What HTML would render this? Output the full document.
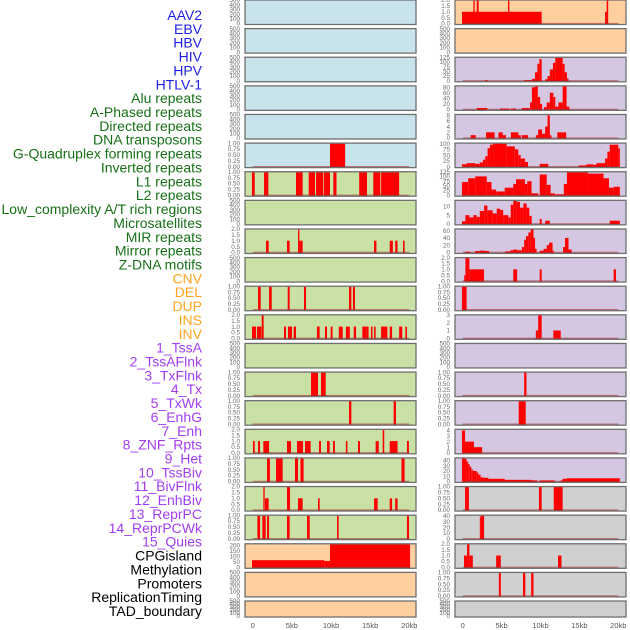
<!DOCTYPE html>
<html><head><meta charset="utf-8">
<style>
html,body{margin:0;padding:0;background:#fff;}
svg{display:block;font-family:"Liberation Sans",sans-serif;}
</style></head>
<body>
<svg id="chart" width="630" height="630" viewBox="0 0 630 630" xmlns="http://www.w3.org/2000/svg">
<g id="labels"></g>
<g id="panels"></g>
<g id="xaxes"></g>
</svg>
<script>
// ---- data ----
const trackLabels = ["AAV2","EBV","HBV","HIV","HPV","HTLV-1","Alu repeats","A-Phased repeats","Directed repeats","DNA transposons","G-Quadruplex forming repeats","Inverted repeats","L1 repeats","L2 repeats","Low_complexity A/T rich regions","Microsatellites","MIR repeats","Mirror repeats","Z-DNA motifs","CNV","DEL","DUP","INS","INV","1_TssA","2_TssAFlnk","3_TxFlnk","4_Tx","5_TxWk","6_EnhG","7_Enh","8_ZNF_Rpts","9_Het","10_TssBiv","11_BivFlnk","12_EnhBiv","13_ReprPC","14_ReprPCWk","15_Quies","CPGisland","Methylation","Promoters","ReplicationTiming","TAD_boundary"];
const labelGroups = [0,0,0,0,0,0,1,1,1,1,1,1,1,1,1,1,1,1,1,2,2,2,2,2,3,3,3,3,3,3,3,3,3,3,3,3,3,3,3,4,4,4,4,4];
const xTickLabels = ["0","5kb","10kb","15kb","20kb"];
const xTickValues = [0,5,10,15,20];

const E = [0,100,200,300,400,500];
const P1 = [0,0.25,0.5,0.75,1.0];
const P2 = [0,0.5,1.0,1.5,2.0];

// left column: colour class, tick values, y max, segments [startKb,endKb,value]
const leftBg = ["b","b","b","b","b","b","g","g","g","g","g","g","g","g","g","g","g","g","g","o","o","o"];
const leftTicks = [E,E,E,E,E,P1,P1,E,P2,E,P1,P2,E,P1,P1,P2,P1,P2,P1,[0,50,100,150,200],E,E];
const leftMax = [500,500,500,500,500,1,1,500,2,500,1,2,500,1,1,2,1,2,1,215,500,500];
const leftSegs = [
 [],[],[],[],[],
 [[9.87,11.8,1]],
 [[-0.1,0.26,1],[1.45,2.0,1],[5.53,6.38,1],[7.15,7.96,1],[8.09,9.02,1],[9.11,9.87,1],[10.3,10.7,1],[13.6,14.6,1],[15.4,16.3,1],[16.4,18.7,1]],
 [],
 [[1.7,2.04,1],[4.38,4.72,1],[5.79,5.96,2],[5.96,6.38,1],[15.5,15.8,1],[17.5,17.9,1],[18.2,18.5,1],[19.2,19.4,1]],
 [],
 [[0.68,1.02,1],[2.09,2.43,1],[4.47,4.72,1],[6.55,6.81,1],[12.3,12.6,1],[12.8,13.06,1]],
 [[-0.09,0.43,1],[0.55,1.11,1],[1.15,1.4,2],[4.0,4.26,1],[4.51,5.02,1],[5.23,5.53,1],[8.2,8.55,1],[9.23,9.49,1],[9.96,10.2,1],[11.0,11.5,1],[11.9,12.4,1],[12.9,13.2,1],[14.0,14.5,1],[14.5,14.8,1],[15.1,15.3,1],[15.5,15.7,1],[16.4,16.9,1],[16.9,17.2,1],[17.5,17.8,1],[18.7,19.1,1],[19.5,19.7,1]],
 [],
 [[7.45,8.34,1],[8.72,9.32,1]],
 [[12.3,12.6,1],[18.0,18.3,1]],
 [[0.04,0.26,1],[0.68,0.94,1],[1.36,2.09,1],[4.38,4.89,1],[5.66,6.43,1],[6.68,7.4,1],[8.47,8.72,1],[9.49,9.83,1],[10.26,10.5,1],[11.9,12.1,1],[13.45,13.7,1],[15.7,16.1,1],[16.6,16.8,2],[17.5,18.5,1],[19.7,19.95,1]],
 [[1.83,2.2,1],[2.98,3.83,1],[5.4,5.79,1],[6.1,6.5,1],[19.0,19.4,1]],
 [[1.36,1.53,2],[1.57,2.04,1],[4.38,4.77,2],[5.79,6.38,1],[8.34,8.55,1],[15.5,15.96,1],[17.5,17.8,1],[18.2,18.5,1]],
 [[0.6,0.94,1],[1.23,1.66,1],[1.83,2.09,1],[4.38,4.72,1],[6.94,7.28,1],[10.77,10.98,1],[19.7,19.96,1]],
 [[-0.09,9.15,65],[9.15,9.87,58],[9.87,20.1,215]],
 [],[]
];

// right column
const rightBg = ["o","o","p","p","p","p","p","p","p","p","p","p","p","p","p","p","p","y","y","y","y","y"];
const rightTicks = [P2,E,[0,25,50,75,100,125],[0,20,40,60,80],[0,2,4,6,8],[0,25,50,75,100],[0,25,50,75,100,125],[0,5,10],[0,20,40,60],P2,P1,[0,1,2,3],E,P1,P1,[0,1,2,3,4],[0,10,20,30,40],P1,[0,10,20,30,40],P2,P1,E];
const rightMax = [2,500,125,85,8.3,102,125,13.5,64.5,2,1,3,500,1,1,4.2,45,1,41.5,2,1,500];
const rightSegs = [
 [[-0.09,10.15,1],[1.37,1.54,2],[1.8,2.05,2],[5.82,6.0,2],[18.3,18.5,1],[18.5,18.7,2]],
 [],
 [[2.87,3.2,3],[7.9,8.9,3],[8.9,9.3,10],[9.3,9.6,45],[9.6,9.85,90],[9.85,10.15,115],[10.6,10.9,8],[10.9,11.2,25],[11.2,11.6,60],[11.6,11.9,95],[11.9,12.85,122],[12.85,13.1,90],[13.1,13.4,45],[13.4,13.6,12]],
 [[1.8,3.17,5],[4.8,6.0,3],[6.2,6.85,3],[7.6,8.6,5],[8.65,8.9,25],[8.9,9.3,80],[9.3,9.65,85],[9.65,9.95,45],[9.95,10.2,20],[10.45,10.8,8],[10.8,11.2,25],[11.2,11.65,60],[11.65,11.9,45],[11.9,12.3,10],[12.3,12.85,25],[12.85,13.35,85],[13.35,13.7,10]],
 [[1.03,1.67,1],[3.0,4.1,2],[4.6,5.14,2],[5.14,5.55,1],[6.2,7.15,2],[7.15,7.45,1],[7.6,8.4,1],[9.4,9.7,1],[9.7,10.2,3],[10.2,10.6,1.5],[10.6,10.9,4],[10.9,11.2,8],[11.2,11.4,1],[12.16,13.3,2]],
 [[-0.1,0.5,10],[0.5,1.6,15],[1.6,2.2,12],[2.2,2.6,18],[2.6,2.9,30],[2.9,3.2,45],[3.2,3.5,80],[3.5,3.9,95],[3.9,5.65,100],[5.65,6.7,88],[6.7,7.15,75],[7.15,7.45,50],[7.45,8.0,35],[8.0,8.4,20],[9.9,11.0,12],[14.9,15.9,5],[15.9,16.8,10],[16.8,17.2,8],[17.2,18.3,15],[18.3,18.6,35],[18.6,18.9,65],[18.9,20.0,95],[20.0,20.2,80]],
 [[-0.1,0.7,70],[0.7,1.6,90],[1.6,3.1,100],[3.1,3.7,70],[3.7,4.3,30],[4.3,5.4,20],[5.4,6.5,40],[6.5,6.85,60],[6.85,8.0,85],[8.0,8.3,60],[8.3,8.85,75],[8.85,9.7,10],[9.9,10.8,110],[10.8,11.3,55],[11.3,11.85,10],[11.85,13.0,5],[13.0,13.4,60],[13.4,16.1,125],[16.1,18.1,115],[18.1,18.8,90],[18.8,19.4,40],[19.4,20.2,45]],
 [[-0.1,0.35,1.5],[0.35,0.86,5],[0.86,1.37,3.7],[1.37,1.8,5],[1.8,2.2,4],[2.2,2.75,7.4],[2.75,3.17,10.5],[3.17,3.85,7.8],[3.85,4.37,6],[4.37,4.8,8.7],[4.8,5.2,8],[5.2,5.86,5],[5.86,6.17,3.7],[6.17,6.5,11],[6.5,6.94,13.5],[6.94,7.37,12.6],[7.37,7.8,9.3],[7.8,8.22,11.7],[8.22,8.56,9.3],[8.56,8.87,4.6],[9.9,10.15,2.8],[10.6,11.2,1.8],[18.9,20.2,1.8]],
 [[0.3,0.95,2],[1.6,2.2,4],[2.2,2.87,5],[2.87,3.4,4],[5.44,6.1,3],[6.1,6.5,6],[6.5,7.0,8],[7.0,7.6,6],[7.6,7.9,15],[7.9,8.14,35],[8.14,8.44,45],[8.44,8.74,55],[8.74,9.1,65],[9.1,9.3,40],[9.3,9.5,10],[9.9,10.4,5],[10.4,10.8,10],[10.8,11.1,20],[11.1,11.55,27],[11.55,11.7,5],[12.9,13.15,15],[13.15,13.6,40],[13.6,14.0,8]],
 [[0.2,0.35,0.5],[0.35,0.86,2],[0.86,2.74,1],[6.5,7.0,1],[9.9,10.15,1],[19.4,19.7,1]],
 [[-0.1,0.5,1]],
 [[9.4,9.7,1],[9.7,10.15,3],[11.65,12.6,1]],
 [],
 [[7.9,8.2,1]],
 [[7.2,8.1,1]],
 [[-0.1,0.3,4],[0.3,1.45,2],[1.45,2.5,1]],
 [[-0.1,0.3,45],[0.3,0.5,43],[0.5,0.7,38],[0.7,0.9,33],[0.9,1.1,28],[1.1,1.3,23],[1.3,1.8,20],[1.8,2.0,17],[2.0,2.3,13],[2.3,2.65,8],[2.65,3.3,7],[3.3,5.4,5],[5.4,8.85,3],[8.85,9.6,2],[9.9,11.8,2],[12.6,12.85,2],[12.85,13.3,5],[13.3,20.2,6]],
 [[0.3,0.8,1],[9.8,10.15,1],[11.7,12.85,1]],
 [[2.2,2.3,38],[2.3,2.75,42]],
 [[0.17,0.56,1],[0.56,0.86,2],[0.86,1.3,1],[4.3,4.9,1],[12.25,12.7,1]],
 [[4.65,4.9,1],[7.75,8.05,1],[8.8,9.1,1]],
 []
];

// ---- layout ----
const NS = "http://www.w3.org/2000/svg";
const bgColors = {b:"#c9e3ec", g:"#c9e1a5", o:"#ffd09f", p:"#d5c6e2", y:"#d0d0d0"};
const labelColors = ["#1f1fe6","#177017","#ffa41f","#a23ef0","#000000"];
const cols = [
  {x0:245, x1:416, zero:252.7, pxPerKb:7.83, tickX:240, bg:leftBg, ticks:leftTicks, max:leftMax, segs:leftSegs, side:"left"},
  {x0:455, x1:626, zero:462.7, pxPerKb:7.78, tickX:450, bg:rightBg, ticks:rightTicks, max:rightMax, segs:rightSegs, side:"right"}
];
function rowTop(i){ return 28.62*i; }
function rowH(i){ return i===21 ? 16 : 24.5; }
function mk(tag, attrs, parent){ const e=document.createElementNS(NS,tag); for(const k in attrs) e.setAttribute(k,attrs[k]); parent.appendChild(e); return e; }

const gL = document.getElementById("labels");
trackLabels.forEach((t,i)=>{
  const el = mk("text",{x:202,y:20+13.86*i,"text-anchor":"end","font-size":"14",fill:labelColors[labelGroups[i]]},gL);
  el.textContent = t;
  
  
});

const gP = document.getElementById("panels");
cols.forEach(c=>{
  const xs = kb => c.zero + kb*c.pxPerKb;
  for(let i=0;i<22;i++){
    const top=rowTop(i), h=rowH(i), bot=top+h;
    const g = mk("g",{},gP);
    
    
    mk("rect",{x:c.x0,y:top,width:c.x1-c.x0,height:h,fill:bgColors[c.bg[i]]},g);
    const ym = v => bot - 1 - (v/c.max[i])*(h-1);
    const segs = c.segs[i];
    segs.forEach(s=>{
      const xa=Math.max(xs(s[0]),c.x0+1), xb=Math.min(xs(s[1]),c.x1-1);
      const r = mk("rect",{x:xa,y:Math.max(ym(s[2]),top+0.5),width:Math.max(xb-xa,0.8),height:bot-Math.max(ym(s[2]),top+0.5),fill:"#ff0000"},g);
      
      
    });
    if(segs.length){
      mk("line",{x1:xs(0),x2:xs(20),y1:bot-1,y2:bot-1,stroke:"rgba(170,30,30,0.55)","stroke-width":1.3},g);
    }
    mk("rect",{x:c.x0,y:top,width:c.x1-c.x0,height:h,fill:"none",stroke:"#6f6f6f","stroke-width":1.3},g);
    c.ticks[i].forEach(tv=>{
      const t = mk("text",{x:c.tickX,y:ym(tv)+2.2,"text-anchor":"end","font-size":"6.3",fill:"#6a6a6a"},g);
      t.textContent = (c.ticks[i]===P1) ? tv.toFixed(2) : (c.ticks[i]===P2 ? tv.toFixed(1) : String(tv));
      
      
    });
  }
});

const gX = document.getElementById("xaxes");
cols.forEach(c=>{
  xTickValues.forEach((v,k)=>{
    const t = mk("text",{x:c.zero+v*c.pxPerKb,y:628,"text-anchor":"middle","font-size":"7.5",fill:"#555"},gX);
    t.textContent = xTickLabels[k];
    
    
  });
});
</script>
</body></html>
